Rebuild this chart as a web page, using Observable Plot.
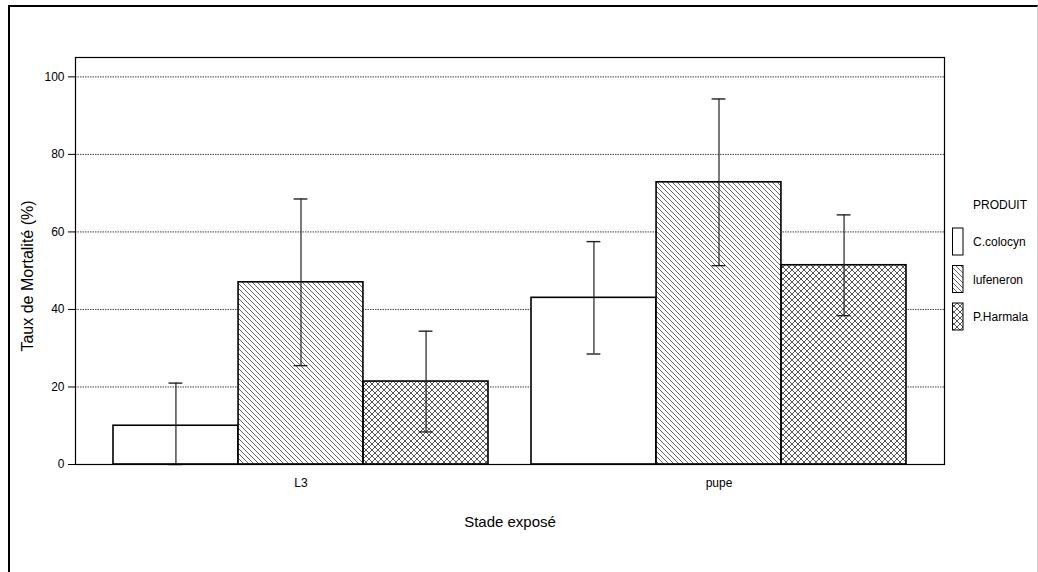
<!DOCTYPE html>
<html>
<head>
<meta charset="utf-8">
<script src="https://cdn.jsdelivr.net/npm/d3@7"></script>
<script src="https://cdn.jsdelivr.net/npm/@observablehq/plot@0.6"></script>
<style>
  html, body { margin: 0; padding: 0; background: #fff; }
  #chart { position: relative; width: 1038px; height: 572px; overflow: hidden; }
  #cadre {
    position: absolute; left: 8px; top: 5px; right: 0; bottom: -4px;
    border-top: 2px solid #000; border-left: 2px solid #000; border-right: 1px solid #d0d0d0;
    pointer-events: none;
  }
  svg { display: block; }
</style>
</head>
<body>
<div id="chart"><div id="cadre"></div></div>
<script>
// Stades exposés et produits testés
const stades = ["L3", "pupe"];
const produits = ["C.colocyn", "lufeneron", "P.Harmala"];

// Taux de mortalité moyen (%) par produit, pour chaque stade
const moyenneL3 = [10, 47, 21.4];
const moyennePupe = [43, 72.8, 51.4];

// Écart autour de la moyenne (barres d'erreur)
const erreurL3 = [11, 21.5, 13];
const erreurPupe = [14.5, 21.5, 13];

const yTicks = [0, 20, 40, 60, 80, 100];

// Motif de remplissage de chaque produit
const motifs = {
  "C.colocyn": "white",
  "lufeneron": "url(#hachures)",
  "P.Harmala": "url(#quadrillage)"
};

const donnees = [];
stades.forEach((stade, i) => {
  const moy = i === 0 ? moyenneL3 : moyennePupe;
  const err = i === 0 ? erreurL3 : erreurPupe;
  produits.forEach((produit, j) => {
    donnees.push({
      stade, produit,
      moyenne: moy[j],
      bas: Math.max(0, moy[j] - err[j]),
      haut: moy[j] + err[j],
      motif: motifs[produit]
    });
  });
});

const police = "'Liberation Sans', Arial, Helvetica, sans-serif";
const W = 1038, H = 572;
const marges = { left: 75, right: 94, top: 57, bottom: 108 };

// Échelle des stades : chaque bande est partagée entre les trois produits
const xOptions = {
  type: "band",
  domain: stades,
  paddingInner: 0.104,
  paddingOuter: 0.0896
};
const bande = Plot.scale({ x: { ...xOptions, range: [marges.left, W - marges.right] } }).bandwidth;
const part = bande / produits.length;
const chapeau = 14; // largeur des extrémités des barres d'erreur

const marquesProduits = produits.flatMap((p, j) => {
  const lignes = donnees.filter(d => d.produit === p);
  const gauche = j * part, droite = (produits.length - 1 - j) * part;
  const decal = (j - (produits.length - 1) / 2) * part;
  const retrait = (part - chapeau) / 2;
  return [
    Plot.barY(lignes, {
      x: "stade", y: "moyenne", fill: "motif",
      stroke: "#000", strokeWidth: 1.6,
      insetLeft: gauche, insetRight: droite
    }),
    Plot.ruleX(lignes, {
      x: "stade", y1: "bas", y2: "haut", dx: decal,
      stroke: "#222", strokeWidth: 1.2
    }),
    Plot.tickY(lignes, {
      x: "stade", y: "haut", stroke: "#222", strokeWidth: 1.4,
      insetLeft: gauche + retrait, insetRight: droite + retrait
    }),
    Plot.tickY(lignes, {
      x: "stade", y: "bas", stroke: "#222", strokeWidth: 1.4,
      insetLeft: gauche + retrait, insetRight: droite + retrait
    })
  ];
});

const plot = Plot.plot({
  width: W,
  height: H,
  marginLeft: marges.left,
  marginRight: marges.right,
  marginTop: marges.top,
  marginBottom: marges.bottom,
  style: { fontFamily: police, fontSize: "12px", color: "#000", background: "transparent" },
  x: { ...xOptions, tickSize: 0, tickPadding: 14, label: null },
  y: {
    domain: [0, 105],
    ticks: yTicks,
    tickSize: 7,
    tickPadding: 4,
    label: null
  },
  color: { type: "identity" },
  marks: [
    Plot.gridY(yTicks.slice(1), {
      stroke: "#444",
      strokeOpacity: 1,
      strokeWidth: 1,
      strokeDasharray: "1.5,1"
    }),
    ...marquesProduits,
    Plot.frame({ stroke: "#000", strokeWidth: 1.2 }),
    Plot.text(["Stade exposé"], {
      frameAnchor: "bottom",
      lineAnchor: "middle",
      dy: 58,
      fontSize: 15,
      fill: "#000"
    }),
    Plot.text(["Taux de Mortalité (%)"], {
      frameAnchor: "left",
      textAnchor: "middle",
      lineAnchor: "middle",
      dx: -48,
      dy: 15,
      rotate: -90,
      fontSize: 16,
      fill: "#000"
    })
  ]
});

const svg = d3.select(plot);

// Motifs de hachures des barres
const defs = svg.insert("defs", ":first-child");
const hach = defs.append("pattern")
  .attr("id", "hachures")
  .attr("patternUnits", "userSpaceOnUse")
  .attr("width", 5).attr("height", 5);
hach.append("rect").attr("width", 5).attr("height", 5).attr("fill", "#fff");
hach.append("path")
  .attr("d", "M0,0L5,5M-1,4L1,6M4,-1L6,1")
  .attr("stroke", "#555").attr("stroke-width", 0.9).attr("fill", "none");

const quad = defs.append("pattern")
  .attr("id", "quadrillage")
  .attr("patternUnits", "userSpaceOnUse")
  .attr("width", 6).attr("height", 6);
quad.append("rect").attr("width", 6).attr("height", 6).attr("fill", "#fff");
quad.append("path")
  .attr("d", "M0,0L6,6M-1,5L1,7M5,-1L7,1M0,6L6,0M-1,1L1,-1M5,7L7,5")
  .attr("stroke", "#444").attr("stroke-width", 0.9).attr("fill", "none");

// Légende des produits
const legende = svg.append("g")
  .attr("font-family", police)
  .attr("font-size", 12)
  .attr("text-anchor", "start")
  .attr("fill", "#000");
legende.append("text")
  .attr("x", 973).attr("y", 205)
  .attr("dy", "0.35em")
  .text("PRODUIT");
produits.forEach((p, i) => {
  const y0 = 228 + i * 37.5;
  legende.append("rect")
    .attr("x", 952.5).attr("y", y0)
    .attr("width", 10.5).attr("height", 27)
    .attr("fill", motifs[p])
    .attr("stroke", "#000").attr("stroke-width", 1);
  legende.append("text")
    .attr("x", 973).attr("y", y0 + 14)
    .attr("dy", "0.35em")
    .text(p);
});

document.getElementById("chart").prepend(plot);
</script>
</body>
</html>
